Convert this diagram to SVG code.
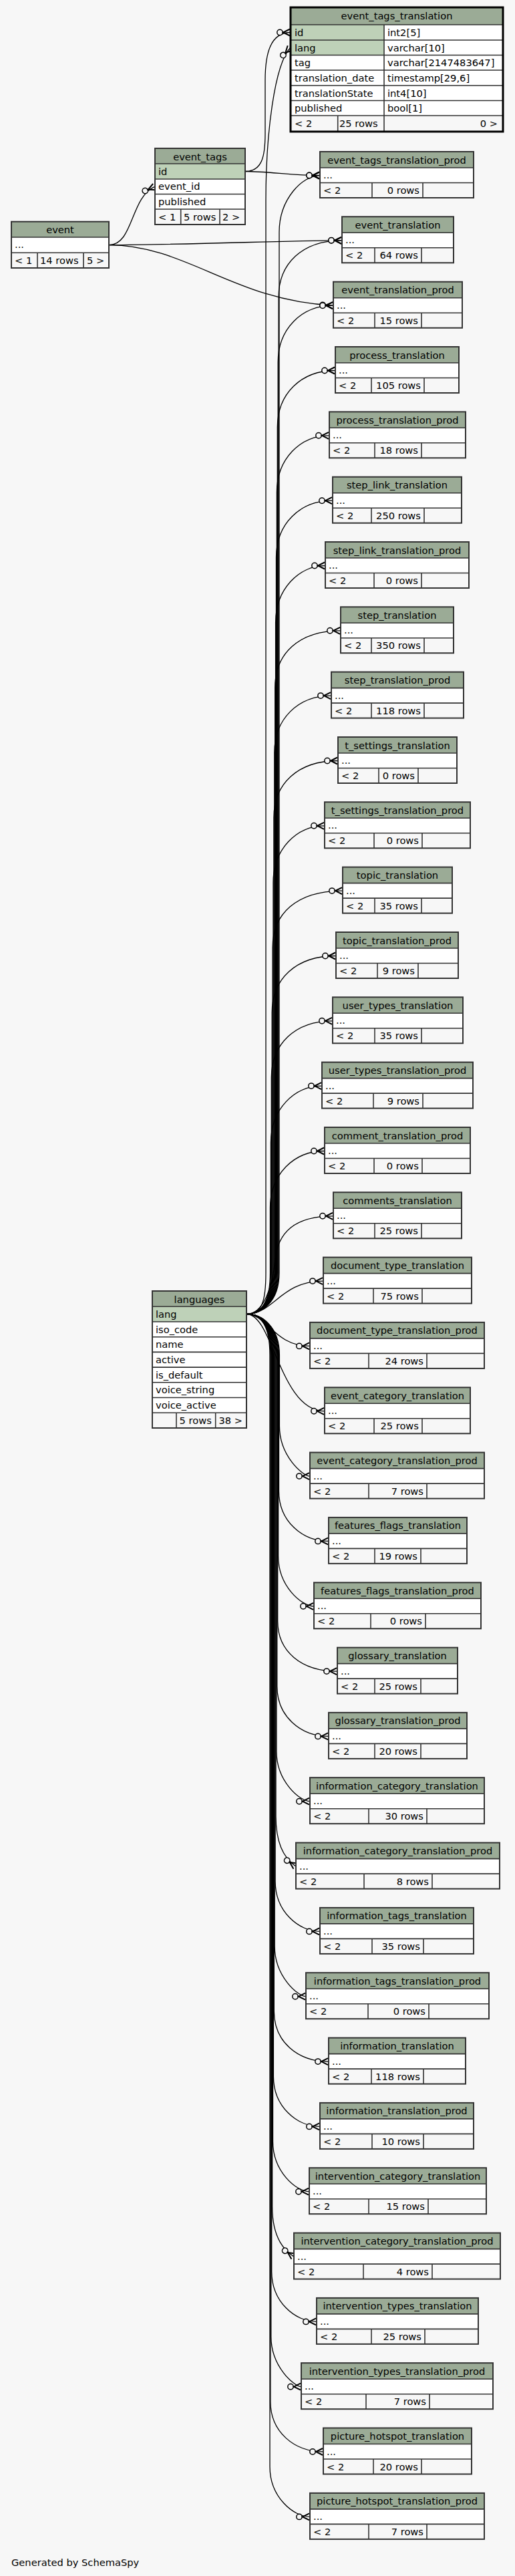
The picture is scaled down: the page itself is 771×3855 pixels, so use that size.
<svg xmlns="http://www.w3.org/2000/svg" width="771" height="3855" viewBox="0 0 771 3855">
<style>
.h{fill:#9bab96}.w{fill:#fff}.f{fill:#f7f7f7}.k{fill:#bed1b8}
.o{fill:none;stroke:#333;stroke-width:2}
.s{fill:none;stroke:#333;stroke-width:1.6}
.t{font-family:"DejaVu Sans",sans-serif;font-size:14.67px;fill:#000}
.c{text-anchor:middle}.e{text-anchor:end}
.ed{fill:none;stroke:#000;stroke-width:1.3;marker-end:url(#crow)}
</style>
<defs>
<marker id="crow" markerUnits="userSpaceOnUse" markerWidth="40" markerHeight="20" viewBox="-30 -10 40 20" refX="0" refY="0" orient="auto" overflow="visible">
<circle cx="-16" cy="0" r="4.2" fill="#f7f7f7" stroke="#000" stroke-width="1.5"/>
<path d="M-1,-5 L-11,0 L-1,5" fill="none" stroke="#000" stroke-width="2"/>
</marker>
</defs>
<rect x="0" y="0" width="771" height="3855" fill="#f7f7f7"/>

<g id="connectors">
<path class="ed" d="M369,1966.5 C392,1966.5 398,1948 398,1905 V300 C398,200 411,96 435,71"/>
<path class="ed" d="M367,256.5 C392,256.5 397,235 397,200 V120 C397,80 405,48.5 435,48.5"/>
<path class="ed" d="M367,256.5 C400,256.5 440,262.5 479,262.5"/>
<path class="ed" d="M163,366.7 C200,366.7 195,295 232,279.2"/>
<path class="ed" d="M163,366.7 C300,366 420,360 512,359.8"/>
<path class="ed" d="M163,366.7 C280,367 350,450 499,457.2"/>
<path class="ed" d="M369,1966.5 C392,1966.5 418,1948 418,1905 V347.5 C418,297.5 453,262.5 479,262.5"/>
<path class="ed" d="M369,1966.5 C392,1966.5 417.1,1948 417.1,1905 V444.8 C417.1,394.8 452.1,359.8 512,359.8"/>
<path class="ed" d="M369,1966.5 C392,1966.5 416.2,1948 416.2,1905 V542.2 C416.2,492.2 451.2,457.2 499,457.2"/>
<path class="ed" d="M369,1966.5 C392,1966.5 415.3,1948 415.3,1905 V639.5 C415.3,589.5 450.3,554.5 502,554.5"/>
<path class="ed" d="M369,1966.5 C392,1966.5 414.4,1948 414.4,1905 V736.8 C414.4,686.8 449.4,651.8 493,651.8"/>
<path class="ed" d="M369,1966.5 C392,1966.5 413.5,1948 413.5,1905 V834.2 C413.5,784.2 448.5,749.2 498,749.2"/>
<path class="ed" d="M369,1966.5 C392,1966.5 412.6,1948 412.6,1905 V931.5 C412.6,881.5 447.6,846.5 487,846.5"/>
<path class="ed" d="M369,1966.5 C392,1966.5 411.7,1948 411.7,1905 V1028.8 C411.7,978.8 446.7,943.8 510,943.8"/>
<path class="ed" d="M369,1966.5 C392,1966.5 410.8,1948 410.8,1905 V1126.1 C410.8,1076.1 445.8,1041.1 496,1041.1"/>
<path class="ed" d="M369,1966.5 C392,1966.5 409.9,1948 409.9,1905 V1223.5 C409.9,1173.5 444.9,1138.5 506,1138.5"/>
<path class="ed" d="M369,1966.5 C392,1966.5 409,1948 409,1905 V1320.8 C409,1270.8 444,1235.8 486,1235.8"/>
<path class="ed" d="M369,1966.5 C392,1966.5 408.1,1948 408.1,1905 V1418.1 C408.1,1368.1 443.1,1333.1 513,1333.1"/>
<path class="ed" d="M369,1966.5 C392,1966.5 407.2,1948 407.2,1905 V1515.5 C407.2,1465.5 442.2,1430.5 503,1430.5"/>
<path class="ed" d="M369,1966.5 C392,1966.5 406.3,1948 406.3,1905 V1612.8 C406.3,1562.8 441.3,1527.8 498,1527.8"/>
<path class="ed" d="M369,1966.5 C392,1966.5 405.4,1948 405.4,1905 V1710.1 C405.4,1660.1 440.4,1625.1 482,1625.1"/>
<path class="ed" d="M369,1966.5 C392,1966.5 404.5,1948 404.5,1905 V1807.5 C404.5,1757.5 439.5,1722.5 486,1722.5"/>
<path class="ed" d="M369,1966.5 C395,1966.5 408,1925 412,1885 C416,1845 440,1819.8 499,1819.8"/>
<path class="ed" d="M369,1966.5 C410,1966.5 420,1917.1 484,1917.1"/>
<path class="ed" d="M369,1966.5 C400,1966.5 410,2014.4 464,2014.4"/>
<path class="ed" d="M369,1966.5 C409,1966.5 419,2111.8 486,2111.8"/>
<path class="ed" d="M369,1966.5 C392,1966.5 418.4,1985 418.4,2028 V2134.1 C418.4,2179.1 453.4,2209.1 464,2209.1"/>
<path class="ed" d="M369,1966.5 C392,1966.5 417.5,1985 417.5,2028 V2231.4 C417.5,2276.4 452.5,2306.4 492,2306.4"/>
<path class="ed" d="M369,1966.5 C392,1966.5 416.6,1985 416.6,2028 V2328.8 C416.6,2373.8 451.6,2403.8 470,2403.8"/>
<path class="ed" d="M369,1966.5 C392,1966.5 415.7,1985 415.7,2028 V2426.1 C415.7,2471.1 450.7,2501.1 505,2501.1"/>
<path class="ed" d="M369,1966.5 C392,1966.5 414.8,1985 414.8,2028 V2523.4 C414.8,2568.4 449.8,2598.4 492,2598.4"/>
<path class="ed" d="M369,1966.5 C392,1966.5 413.9,1985 413.9,2028 V2620.7 C413.9,2665.7 448.9,2695.7 464,2695.7"/>
<path class="ed" d="M369,1966.5 C392,1966.5 413,1985 413,2028 V2718.1 C413,2768.1 431,2785.1 443,2793.1"/>
<path class="ed" d="M369,1966.5 C392,1966.5 412.1,1985 412.1,2028 V2815.4 C412.1,2860.4 447.1,2890.4 479,2890.4"/>
<path class="ed" d="M369,1966.5 C392,1966.5 411.2,1985 411.2,2028 V2912.7 C411.2,2957.7 446.2,2987.7 458,2987.7"/>
<path class="ed" d="M369,1966.5 C392,1966.5 410.3,1985 410.3,2028 V3010.1 C410.3,3055.1 445.3,3085.1 492,3085.1"/>
<path class="ed" d="M369,1966.5 C392,1966.5 409.4,1985 409.4,2028 V3107.4 C409.4,3152.4 444.4,3182.4 479,3182.4"/>
<path class="ed" d="M369,1966.5 C392,1966.5 408.5,1985 408.5,2028 V3204.7 C408.5,3249.7 443.5,3279.7 463,3279.7"/>
<path class="ed" d="M369,1966.5 C392,1966.5 407.6,1985 407.6,2028 V3302.1 C407.6,3352.1 428,3369.1 440,3377.1"/>
<path class="ed" d="M369,1966.5 C392,1966.5 406.7,1985 406.7,2028 V3399.4 C406.7,3444.4 441.7,3474.4 474,3474.4"/>
<path class="ed" d="M369,1966.5 C392,1966.5 405.8,1985 405.8,2028 V3496.7 C405.8,3541.7 440.8,3571.7 451,3571.7"/>
<path class="ed" d="M369,1966.5 C392,1966.5 404.9,1985 404.9,2028 V3594 C404.9,3639 439.9,3669 484,3669"/>
<path class="ed" d="M369,1966.5 C392,1966.5 404,1985 404,2028 V3691.4 C404,3736.4 439,3766.4 464,3766.4"/>
</g>

<g id="event_tags_translation">
<rect class="h" x="435" y="11" width="318" height="26"/>
<rect class="k" x="435" y="37" width="140" height="45.5"/>
<rect class="w" x="575" y="37" width="178" height="45.5"/>
<rect class="w" x="435" y="82.5" width="318" height="90.5"/>
<rect class="f" x="435" y="173" width="318" height="24"/>
<path class="s" d="M435,37 H753 M435,60 H753 M435,82.5 H753 M435,105 H753 M435,128 H753 M435,150.5 H753 M435,173 H753 M575,37 V197 M505.7,173 V197"/>
<rect x="435" y="11" width="318" height="186" fill="none" stroke="#000" stroke-width="3"/>
<text class="t c" x="594" y="29">event_tags_translation</text>
<text class="t" x="441" y="53.5">id</text><text class="t" x="580" y="53.5">int2[5]</text>
<text class="t" x="441" y="76.5">lang</text><text class="t" x="580" y="76.5">varchar[10]</text>
<text class="t" x="441" y="99">tag</text><text class="t" x="580" y="99">varchar[2147483647]</text>
<text class="t" x="441" y="121.5">translation_date</text><text class="t" x="580" y="121.5">timestamp[29,6]</text>
<text class="t" x="441" y="144.5">translationState</text><text class="t" x="580" y="144.5">int4[10]</text>
<text class="t" x="441" y="167">published</text><text class="t" x="580" y="167">bool[1]</text>
<text class="t" x="441" y="190">&lt; 2</text><text class="t" x="508" y="190">25 rows</text><text class="t e" x="745" y="190">0 &gt;</text>
</g>

<g id="event_tags">
<rect class="h" x="232" y="222" width="135" height="23"/>
<rect class="k" x="232" y="245" width="135" height="23"/>
<rect class="w" x="232" y="268" width="135" height="45"/>
<rect class="f" x="232" y="313" width="135" height="23"/>
<path class="s" d="M232,245 H367 M232,268 H367 M232,290.5 H367 M232,313 H367 M270.7,313 V336 M329,313 V336"/>
<rect class="o" x="232" y="222" width="135" height="114"/>
<text class="t c" x="299.5" y="239.5">event_tags</text>
<text class="t" x="237" y="261.5">id</text>
<text class="t" x="237" y="284">event_id</text>
<text class="t" x="237" y="306.5">published</text>
<text class="t" x="237" y="330">&lt; 1</text><text class="t" x="275" y="330">5 rows</text><text class="t" x="333" y="330">2 &gt;</text>
</g>

<g id="event">
<rect class="h" x="17" y="331.7" width="146" height="23.3"/>
<rect class="w" x="17" y="355" width="146" height="23.3"/>
<rect class="f" x="17" y="378.3" width="146" height="22.7"/>
<path class="s" d="M17,355 H163 M17,378.3 H163 M56,378.3 V401 M125,378.3 V401"/>
<rect class="o" x="17" y="331.7" width="146" height="69.3"/>
<text class="t c" x="90" y="349">event</text>
<text class="t" x="22" y="371">...</text>
<text class="t" x="22" y="395">&lt; 1</text><text class="t" x="60" y="395">14 rows</text><text class="t" x="130" y="395">5 &gt;</text>
</g>

<g id="languages">
<rect class="h" x="228" y="1932" width="141" height="23.3"/>
<rect class="k" x="228" y="1955.3" width="141" height="22.7"/>
<rect class="w" x="228" y="1978" width="141" height="136.2"/>
<rect class="f" x="228" y="2114.2" width="141" height="22.8"/>
<path class="s" d="M228,1955.3 H369 M228,1978 H369 M228,2000.7 H369 M228,2023.4 H369 M228,2046.1 H369 M228,2068.8 H369 M228,2091.5 H369 M228,2114.2 H369 M264,2114.2 V2137 M322.7,2114.2 V2137"/>
<rect class="o" x="228" y="1932" width="141" height="205"/>
<text class="t c" x="298.5" y="1949.5">languages</text>
<text class="t" x="233" y="1971.8">lang</text>
<text class="t" x="233" y="1994.5">iso_code</text>
<text class="t" x="233" y="2017.2">name</text>
<text class="t" x="233" y="2039.9">active</text>
<text class="t" x="233" y="2062.6">is_default</text>
<text class="t" x="233" y="2085.3">voice_string</text>
<text class="t" x="233" y="2108">voice_active</text>
<text class="t" x="268.5" y="2131">5 rows</text><text class="t" x="327.5" y="2131">38 &gt;</text>
</g>

<g id="event_tags_translation_prod"><rect class="h" x="479" y="227" width="230" height="24"/><rect class="w" x="479" y="251" width="230" height="22.5"/><rect class="f" x="479" y="273.5" width="230" height="22.5"/><path class="s" d="M479,251 H709 M479,273.5 H709 M557,273.5 V296 M633,273.5 V296"/><rect class="o" x="479" y="227" width="230" height="69"/><text class="t c" x="594" y="244.5">event_tags_translation_prod</text><text class="t" x="484" y="267">...</text><text class="t" x="484" y="290">&lt; 2</text><text class="t e" x="628" y="290">0 rows</text></g>

<g id="event_translation"><rect class="h" x="512" y="324.3" width="167" height="24"/><rect class="w" x="512" y="348.3" width="167" height="22.5"/><rect class="f" x="512" y="370.8" width="167" height="22.5"/><path class="s" d="M512,348.3 H679 M512,370.8 H679 M561,370.8 V393.3 M631,370.8 V393.3"/><rect class="o" x="512" y="324.3" width="167" height="69"/><text class="t c" x="595.5" y="341.8">event_translation</text><text class="t" x="517" y="364.3">...</text><text class="t" x="517" y="387.3">&lt; 2</text><text class="t e" x="626" y="387.3">64 rows</text></g>

<g id="event_translation_prod"><rect class="h" x="499" y="421.7" width="193" height="24"/><rect class="w" x="499" y="445.7" width="193" height="22.5"/><rect class="f" x="499" y="468.2" width="193" height="22.5"/><path class="s" d="M499,445.7 H692 M499,468.2 H692 M561,468.2 V490.7 M631,468.2 V490.7"/><rect class="o" x="499" y="421.7" width="193" height="69"/><text class="t c" x="595.5" y="439.2">event_translation_prod</text><text class="t" x="504" y="461.7">...</text><text class="t" x="504" y="484.7">&lt; 2</text><text class="t e" x="626" y="484.7">15 rows</text></g>

<g id="process_translation"><rect class="h" x="502" y="519" width="185" height="24"/><rect class="w" x="502" y="543" width="185" height="22.5"/><rect class="f" x="502" y="565.5" width="185" height="22.5"/><path class="s" d="M502,543 H687 M502,565.5 H687 M556,565.5 V588 M635,565.5 V588"/><rect class="o" x="502" y="519" width="185" height="69"/><text class="t c" x="594.5" y="536.5">process_translation</text><text class="t" x="507" y="559">...</text><text class="t" x="507" y="582">&lt; 2</text><text class="t e" x="630" y="582">105 rows</text></g>

<g id="process_translation_prod"><rect class="h" x="493" y="616.3" width="204" height="24"/><rect class="w" x="493" y="640.3" width="204" height="22.5"/><rect class="f" x="493" y="662.8" width="204" height="22.5"/><path class="s" d="M493,640.3 H697 M493,662.8 H697 M561,662.8 V685.3 M631,662.8 V685.3"/><rect class="o" x="493" y="616.3" width="204" height="69"/><text class="t c" x="595" y="633.8">process_translation_prod</text><text class="t" x="498" y="656.3">...</text><text class="t" x="498" y="679.3">&lt; 2</text><text class="t e" x="626" y="679.3">18 rows</text></g>

<g id="step_link_translation"><rect class="h" x="498" y="713.7" width="193" height="24"/><rect class="w" x="498" y="737.7" width="193" height="22.5"/><rect class="f" x="498" y="760.2" width="193" height="22.5"/><path class="s" d="M498,737.7 H691 M498,760.2 H691 M556,760.2 V782.7 M635,760.2 V782.7"/><rect class="o" x="498" y="713.7" width="193" height="69"/><text class="t c" x="594.5" y="731.2">step_link_translation</text><text class="t" x="503" y="753.7">...</text><text class="t" x="503" y="776.7">&lt; 2</text><text class="t e" x="630" y="776.7">250 rows</text></g>

<g id="step_link_translation_prod"><rect class="h" x="487" y="811" width="215" height="24"/><rect class="w" x="487" y="835" width="215" height="22.5"/><rect class="f" x="487" y="857.5" width="215" height="22.5"/><path class="s" d="M487,835 H702 M487,857.5 H702 M560,857.5 V880 M631,857.5 V880"/><rect class="o" x="487" y="811" width="215" height="69"/><text class="t c" x="594.5" y="828.5">step_link_translation_prod</text><text class="t" x="492" y="851">...</text><text class="t" x="492" y="874">&lt; 2</text><text class="t e" x="626" y="874">0 rows</text></g>

<g id="step_translation"><rect class="h" x="510" y="908.3" width="169" height="24"/><rect class="w" x="510" y="932.3" width="169" height="22.5"/><rect class="f" x="510" y="954.8" width="169" height="22.5"/><path class="s" d="M510,932.3 H679 M510,954.8 H679 M556,954.8 V977.3 M635,954.8 V977.3"/><rect class="o" x="510" y="908.3" width="169" height="69"/><text class="t c" x="594.5" y="925.8">step_translation</text><text class="t" x="515" y="948.3">...</text><text class="t" x="515" y="971.3">&lt; 2</text><text class="t e" x="630" y="971.3">350 rows</text></g>

<g id="step_translation_prod"><rect class="h" x="496" y="1005.6" width="198" height="24"/><rect class="w" x="496" y="1029.6" width="198" height="22.5"/><rect class="f" x="496" y="1052.1" width="198" height="22.5"/><path class="s" d="M496,1029.6 H694 M496,1052.1 H694 M556,1052.1 V1074.6 M635,1052.1 V1074.6"/><rect class="o" x="496" y="1005.6" width="198" height="69"/><text class="t c" x="595" y="1023.1">step_translation_prod</text><text class="t" x="501" y="1045.6">...</text><text class="t" x="501" y="1068.6">&lt; 2</text><text class="t e" x="630" y="1068.6">118 rows</text></g>

<g id="t_settings_translation"><rect class="h" x="506" y="1103" width="178" height="24"/><rect class="w" x="506" y="1127" width="178" height="22.5"/><rect class="f" x="506" y="1149.5" width="178" height="22.5"/><path class="s" d="M506,1127 H684 M506,1149.5 H684 M567,1149.5 V1172 M626,1149.5 V1172"/><rect class="o" x="506" y="1103" width="178" height="69"/><text class="t c" x="595" y="1120.5">t_settings_translation</text><text class="t" x="511" y="1143">...</text><text class="t" x="511" y="1166">&lt; 2</text><text class="t e" x="621" y="1166">0 rows</text></g>

<g id="t_settings_translation_prod"><rect class="h" x="486" y="1200.3" width="218" height="24"/><rect class="w" x="486" y="1224.3" width="218" height="22.5"/><rect class="f" x="486" y="1246.8" width="218" height="22.5"/><path class="s" d="M486,1224.3 H704 M486,1246.8 H704 M560,1246.8 V1269.3 M632,1246.8 V1269.3"/><rect class="o" x="486" y="1200.3" width="218" height="69"/><text class="t c" x="595" y="1217.8">t_settings_translation_prod</text><text class="t" x="491" y="1240.3">...</text><text class="t" x="491" y="1263.3">&lt; 2</text><text class="t e" x="627" y="1263.3">0 rows</text></g>

<g id="topic_translation"><rect class="h" x="513" y="1297.6" width="164" height="24"/><rect class="w" x="513" y="1321.6" width="164" height="22.5"/><rect class="f" x="513" y="1344.1" width="164" height="22.5"/><path class="s" d="M513,1321.6 H677 M513,1344.1 H677 M561,1344.1 V1366.6 M631,1344.1 V1366.6"/><rect class="o" x="513" y="1297.6" width="164" height="69"/><text class="t c" x="595" y="1315.1">topic_translation</text><text class="t" x="518" y="1337.6">...</text><text class="t" x="518" y="1360.6">&lt; 2</text><text class="t e" x="626" y="1360.6">35 rows</text></g>

<g id="topic_translation_prod"><rect class="h" x="503" y="1395" width="183" height="24"/><rect class="w" x="503" y="1419" width="183" height="22.5"/><rect class="f" x="503" y="1441.5" width="183" height="22.5"/><path class="s" d="M503,1419 H686 M503,1441.5 H686 M565,1441.5 V1464 M626,1441.5 V1464"/><rect class="o" x="503" y="1395" width="183" height="69"/><text class="t c" x="594.5" y="1412.5">topic_translation_prod</text><text class="t" x="508" y="1435">...</text><text class="t" x="508" y="1458">&lt; 2</text><text class="t e" x="621" y="1458">9 rows</text></g>

<g id="user_types_translation"><rect class="h" x="498" y="1492.3" width="195" height="24"/><rect class="w" x="498" y="1516.3" width="195" height="22.5"/><rect class="f" x="498" y="1538.8" width="195" height="22.5"/><path class="s" d="M498,1516.3 H693 M498,1538.8 H693 M561,1538.8 V1561.3 M631,1538.8 V1561.3"/><rect class="o" x="498" y="1492.3" width="195" height="69"/><text class="t c" x="595.5" y="1509.8">user_types_translation</text><text class="t" x="503" y="1532.3">...</text><text class="t" x="503" y="1555.3">&lt; 2</text><text class="t e" x="626" y="1555.3">35 rows</text></g>

<g id="user_types_translation_prod"><rect class="h" x="482" y="1589.6" width="226" height="24"/><rect class="w" x="482" y="1613.6" width="226" height="22.5"/><rect class="f" x="482" y="1636.1" width="226" height="22.5"/><path class="s" d="M482,1613.6 H708 M482,1636.1 H708 M559,1636.1 V1658.6 M633,1636.1 V1658.6"/><rect class="o" x="482" y="1589.6" width="226" height="69"/><text class="t c" x="595" y="1607.1">user_types_translation_prod</text><text class="t" x="487" y="1629.6">...</text><text class="t" x="487" y="1652.6">&lt; 2</text><text class="t e" x="628" y="1652.6">9 rows</text></g>

<g id="comment_translation_prod"><rect class="h" x="486" y="1687" width="218" height="24"/><rect class="w" x="486" y="1711" width="218" height="22.5"/><rect class="f" x="486" y="1733.5" width="218" height="22.5"/><path class="s" d="M486,1711 H704 M486,1733.5 H704 M560,1733.5 V1756 M632,1733.5 V1756"/><rect class="o" x="486" y="1687" width="218" height="69"/><text class="t c" x="595" y="1704.5">comment_translation_prod</text><text class="t" x="491" y="1727">...</text><text class="t" x="491" y="1750">&lt; 2</text><text class="t e" x="627" y="1750">0 rows</text></g>

<g id="comments_translation"><rect class="h" x="499" y="1784.3" width="192" height="24"/><rect class="w" x="499" y="1808.3" width="192" height="22.5"/><rect class="f" x="499" y="1830.8" width="192" height="22.5"/><path class="s" d="M499,1808.3 H691 M499,1830.8 H691 M561,1830.8 V1853.3 M631,1830.8 V1853.3"/><rect class="o" x="499" y="1784.3" width="192" height="69"/><text class="t c" x="595" y="1801.8">comments_translation</text><text class="t" x="504" y="1824.3">...</text><text class="t" x="504" y="1847.3">&lt; 2</text><text class="t e" x="626" y="1847.3">25 rows</text></g>

<g id="document_type_translation"><rect class="h" x="484" y="1881.6" width="222" height="24"/><rect class="w" x="484" y="1905.6" width="222" height="22.5"/><rect class="f" x="484" y="1928.1" width="222" height="22.5"/><path class="s" d="M484,1905.6 H706 M484,1928.1 H706 M559,1928.1 V1950.6 M632,1928.1 V1950.6"/><rect class="o" x="484" y="1881.6" width="222" height="69"/><text class="t c" x="595" y="1899.1">document_type_translation</text><text class="t" x="489" y="1921.6">...</text><text class="t" x="489" y="1944.6">&lt; 2</text><text class="t e" x="627" y="1944.6">75 rows</text></g>

<g id="document_type_translation_prod"><rect class="h" x="464" y="1978.9" width="261" height="24"/><rect class="w" x="464" y="2002.9" width="261" height="22.5"/><rect class="f" x="464" y="2025.4" width="261" height="22.5"/><path class="s" d="M464,2002.9 H725 M464,2025.4 H725 M552,2025.4 V2047.9 M639,2025.4 V2047.9"/><rect class="o" x="464" y="1978.9" width="261" height="69"/><text class="t c" x="594.5" y="1996.4">document_type_translation_prod</text><text class="t" x="469" y="2018.9">...</text><text class="t" x="469" y="2041.9">&lt; 2</text><text class="t e" x="634" y="2041.9">24 rows</text></g>

<g id="event_category_translation"><rect class="h" x="486" y="2076.3" width="218" height="24"/><rect class="w" x="486" y="2100.3" width="218" height="22.5"/><rect class="f" x="486" y="2122.8" width="218" height="22.5"/><path class="s" d="M486,2100.3 H704 M486,2122.8 H704 M560,2122.8 V2145.3 M632,2122.8 V2145.3"/><rect class="o" x="486" y="2076.3" width="218" height="69"/><text class="t c" x="595" y="2093.8">event_category_translation</text><text class="t" x="491" y="2116.3">...</text><text class="t" x="491" y="2139.3">&lt; 2</text><text class="t e" x="627" y="2139.3">25 rows</text></g>

<g id="event_category_translation_prod"><rect class="h" x="464" y="2173.6" width="261" height="24"/><rect class="w" x="464" y="2197.6" width="261" height="22.5"/><rect class="f" x="464" y="2220.1" width="261" height="22.5"/><path class="s" d="M464,2197.6 H725 M464,2220.1 H725 M552,2220.1 V2242.6 M639,2220.1 V2242.6"/><rect class="o" x="464" y="2173.6" width="261" height="69"/><text class="t c" x="594.5" y="2191.1">event_category_translation_prod</text><text class="t" x="469" y="2213.6">...</text><text class="t" x="469" y="2236.6">&lt; 2</text><text class="t e" x="634" y="2236.6">7 rows</text></g>

<g id="features_flags_translation"><rect class="h" x="492" y="2270.9" width="207" height="24"/><rect class="w" x="492" y="2294.9" width="207" height="22.5"/><rect class="f" x="492" y="2317.4" width="207" height="22.5"/><path class="s" d="M492,2294.9 H699 M492,2317.4 H699 M561,2317.4 V2339.9 M630,2317.4 V2339.9"/><rect class="o" x="492" y="2270.9" width="207" height="69"/><text class="t c" x="595.5" y="2288.4">features_flags_translation</text><text class="t" x="497" y="2310.9">...</text><text class="t" x="497" y="2333.9">&lt; 2</text><text class="t e" x="625" y="2333.9">19 rows</text></g>

<g id="features_flags_translation_prod"><rect class="h" x="470" y="2368.3" width="250" height="24"/><rect class="w" x="470" y="2392.3" width="250" height="22.5"/><rect class="f" x="470" y="2414.8" width="250" height="22.5"/><path class="s" d="M470,2392.3 H720 M470,2414.8 H720 M555,2414.8 V2437.3 M637,2414.8 V2437.3"/><rect class="o" x="470" y="2368.3" width="250" height="69"/><text class="t c" x="595" y="2385.8">features_flags_translation_prod</text><text class="t" x="475" y="2408.3">...</text><text class="t" x="475" y="2431.3">&lt; 2</text><text class="t e" x="632" y="2431.3">0 rows</text></g>

<g id="glossary_translation"><rect class="h" x="505" y="2465.6" width="180" height="24"/><rect class="w" x="505" y="2489.6" width="180" height="22.5"/><rect class="f" x="505" y="2512.1" width="180" height="22.5"/><path class="s" d="M505,2489.6 H685 M505,2512.1 H685 M561,2512.1 V2534.6 M630,2512.1 V2534.6"/><rect class="o" x="505" y="2465.6" width="180" height="69"/><text class="t c" x="595" y="2483.1">glossary_translation</text><text class="t" x="510" y="2505.6">...</text><text class="t" x="510" y="2528.6">&lt; 2</text><text class="t e" x="625" y="2528.6">25 rows</text></g>

<g id="glossary_translation_prod"><rect class="h" x="492" y="2562.9" width="207" height="24"/><rect class="w" x="492" y="2586.9" width="207" height="22.5"/><rect class="f" x="492" y="2609.4" width="207" height="22.5"/><path class="s" d="M492,2586.9 H699 M492,2609.4 H699 M561,2609.4 V2631.9 M630,2609.4 V2631.9"/><rect class="o" x="492" y="2562.9" width="207" height="69"/><text class="t c" x="595.5" y="2580.4">glossary_translation_prod</text><text class="t" x="497" y="2602.9">...</text><text class="t" x="497" y="2625.9">&lt; 2</text><text class="t e" x="625" y="2625.9">20 rows</text></g>

<g id="information_category_translation"><rect class="h" x="464" y="2660.2" width="261" height="24"/><rect class="w" x="464" y="2684.2" width="261" height="22.5"/><rect class="f" x="464" y="2706.7" width="261" height="22.5"/><path class="s" d="M464,2684.2 H725 M464,2706.7 H725 M552,2706.7 V2729.2 M639,2706.7 V2729.2"/><rect class="o" x="464" y="2660.2" width="261" height="69"/><text class="t c" x="594.5" y="2677.7">information_category_translation</text><text class="t" x="469" y="2700.2">...</text><text class="t" x="469" y="2723.2">&lt; 2</text><text class="t e" x="634" y="2723.2">30 rows</text></g>

<g id="information_category_translation_prod"><rect class="h" x="443" y="2757.6" width="305" height="24"/><rect class="w" x="443" y="2781.6" width="305" height="22.5"/><rect class="f" x="443" y="2804.1" width="305" height="22.5"/><path class="s" d="M443,2781.6 H748 M443,2804.1 H748 M545,2804.1 V2826.6 M647,2804.1 V2826.6"/><rect class="o" x="443" y="2757.6" width="305" height="69"/><text class="t c" x="595.5" y="2775.1">information_category_translation_prod</text><text class="t" x="448" y="2797.6">...</text><text class="t" x="448" y="2820.6">&lt; 2</text><text class="t e" x="642" y="2820.6">8 rows</text></g>

<g id="information_tags_translation"><rect class="h" x="479" y="2854.9" width="230" height="24"/><rect class="w" x="479" y="2878.9" width="230" height="22.5"/><rect class="f" x="479" y="2901.4" width="230" height="22.5"/><path class="s" d="M479,2878.9 H709 M479,2901.4 H709 M557,2901.4 V2923.9 M634,2901.4 V2923.9"/><rect class="o" x="479" y="2854.9" width="230" height="69"/><text class="t c" x="594" y="2872.4">information_tags_translation</text><text class="t" x="484" y="2894.9">...</text><text class="t" x="484" y="2917.9">&lt; 2</text><text class="t e" x="629" y="2917.9">35 rows</text></g>

<g id="information_tags_translation_prod"><rect class="h" x="458" y="2952.2" width="274" height="24"/><rect class="w" x="458" y="2976.2" width="274" height="22.5"/><rect class="f" x="458" y="2998.7" width="274" height="22.5"/><path class="s" d="M458,2976.2 H732 M458,2998.7 H732 M551,2998.7 V3021.2 M642,2998.7 V3021.2"/><rect class="o" x="458" y="2952.2" width="274" height="69"/><text class="t c" x="595" y="2969.7">information_tags_translation_prod</text><text class="t" x="463" y="2992.2">...</text><text class="t" x="463" y="3015.2">&lt; 2</text><text class="t e" x="637" y="3015.2">0 rows</text></g>

<g id="information_translation"><rect class="h" x="492" y="3049.6" width="205" height="24"/><rect class="w" x="492" y="3073.6" width="205" height="22.5"/><rect class="f" x="492" y="3096.1" width="205" height="22.5"/><path class="s" d="M492,3073.6 H697 M492,3096.1 H697 M556,3096.1 V3118.6 M634,3096.1 V3118.6"/><rect class="o" x="492" y="3049.6" width="205" height="69"/><text class="t c" x="594.5" y="3067.1">information_translation</text><text class="t" x="497" y="3089.6">...</text><text class="t" x="497" y="3112.6">&lt; 2</text><text class="t e" x="629" y="3112.6">118 rows</text></g>

<g id="information_translation_prod"><rect class="h" x="479" y="3146.9" width="230" height="24"/><rect class="w" x="479" y="3170.9" width="230" height="22.5"/><rect class="f" x="479" y="3193.4" width="230" height="22.5"/><path class="s" d="M479,3170.9 H709 M479,3193.4 H709 M557,3193.4 V3215.9 M634,3193.4 V3215.9"/><rect class="o" x="479" y="3146.9" width="230" height="69"/><text class="t c" x="594" y="3164.4">information_translation_prod</text><text class="t" x="484" y="3186.9">...</text><text class="t" x="484" y="3209.9">&lt; 2</text><text class="t e" x="629" y="3209.9">10 rows</text></g>

<g id="intervention_category_translation"><rect class="h" x="463" y="3244.2" width="265" height="24"/><rect class="w" x="463" y="3268.2" width="265" height="22.5"/><rect class="f" x="463" y="3290.7" width="265" height="22.5"/><path class="s" d="M463,3268.2 H728 M463,3290.7 H728 M552,3290.7 V3313.2 M641,3290.7 V3313.2"/><rect class="o" x="463" y="3244.2" width="265" height="69"/><text class="t c" x="595.5" y="3261.7">intervention_category_translation</text><text class="t" x="468" y="3284.2">...</text><text class="t" x="468" y="3307.2">&lt; 2</text><text class="t e" x="636" y="3307.2">15 rows</text></g>

<g id="intervention_category_translation_prod"><rect class="h" x="440" y="3341.6" width="309" height="24"/><rect class="w" x="440" y="3365.6" width="309" height="22.5"/><rect class="f" x="440" y="3388.1" width="309" height="22.5"/><path class="s" d="M440,3365.6 H749 M440,3388.1 H749 M544,3388.1 V3410.6 M647,3388.1 V3410.6"/><rect class="o" x="440" y="3341.6" width="309" height="69"/><text class="t c" x="594.5" y="3359.1">intervention_category_translation_prod</text><text class="t" x="445" y="3381.6">...</text><text class="t" x="445" y="3404.6">&lt; 2</text><text class="t e" x="642" y="3404.6">4 rows</text></g>

<g id="intervention_types_translation"><rect class="h" x="474" y="3438.9" width="242" height="24"/><rect class="w" x="474" y="3462.9" width="242" height="22.5"/><rect class="f" x="474" y="3485.4" width="242" height="22.5"/><path class="s" d="M474,3462.9 H716 M474,3485.4 H716 M556,3485.4 V3507.9 M636,3485.4 V3507.9"/><rect class="o" x="474" y="3438.9" width="242" height="69"/><text class="t c" x="595" y="3456.4">intervention_types_translation</text><text class="t" x="479" y="3478.9">...</text><text class="t" x="479" y="3501.9">&lt; 2</text><text class="t e" x="631" y="3501.9">25 rows</text></g>

<g id="intervention_types_translation_prod"><rect class="h" x="451" y="3536.2" width="287" height="24"/><rect class="w" x="451" y="3560.2" width="287" height="22.5"/><rect class="f" x="451" y="3582.7" width="287" height="22.5"/><path class="s" d="M451,3560.2 H738 M451,3582.7 H738 M548,3582.7 V3605.2 M643,3582.7 V3605.2"/><rect class="o" x="451" y="3536.2" width="287" height="69"/><text class="t c" x="594.5" y="3553.7">intervention_types_translation_prod</text><text class="t" x="456" y="3576.2">...</text><text class="t" x="456" y="3599.2">&lt; 2</text><text class="t e" x="638" y="3599.2">7 rows</text></g>

<g id="picture_hotspot_translation"><rect class="h" x="484" y="3633.5" width="222" height="24"/><rect class="w" x="484" y="3657.5" width="222" height="22.5"/><rect class="f" x="484" y="3680" width="222" height="22.5"/><path class="s" d="M484,3657.5 H706 M484,3680 H706 M559,3680 V3702.5 M631,3680 V3702.5"/><rect class="o" x="484" y="3633.5" width="222" height="69"/><text class="t c" x="595" y="3651">picture_hotspot_translation</text><text class="t" x="489" y="3673.5">...</text><text class="t" x="489" y="3696.5">&lt; 2</text><text class="t e" x="626" y="3696.5">20 rows</text></g>

<g id="picture_hotspot_translation_prod"><rect class="h" x="464" y="3730.9" width="261" height="24"/><rect class="w" x="464" y="3754.9" width="261" height="22.5"/><rect class="f" x="464" y="3777.4" width="261" height="22.5"/><path class="s" d="M464,3754.9 H725 M464,3777.4 H725 M552,3777.4 V3799.9 M639,3777.4 V3799.9"/><rect class="o" x="464" y="3730.9" width="261" height="69"/><text class="t c" x="594.5" y="3748.4">picture_hotspot_translation_prod</text><text class="t" x="469" y="3770.9">...</text><text class="t" x="469" y="3793.9">&lt; 2</text><text class="t e" x="634" y="3793.9">7 rows</text></g>

<text class="t" x="17" y="3840">Generated by SchemaSpy</text>
</svg>
